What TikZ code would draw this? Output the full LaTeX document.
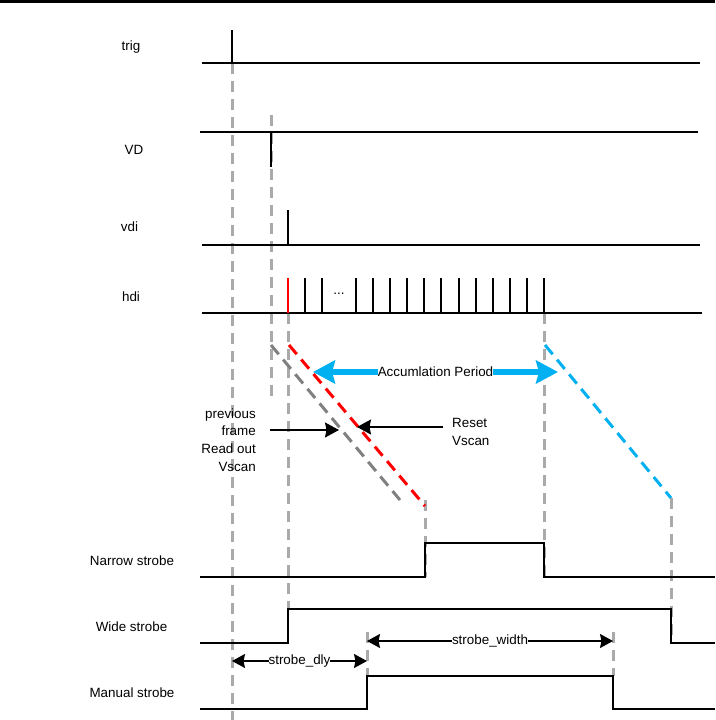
\documentclass[tikz,border=0pt]{standalone}
\usepackage{fontspec}
\setmainfont{Liberation Sans}
\usepackage{xcolor}
\usepackage{tikz}
\usetikzlibrary{arrows.meta, positioning, calc}
\definecolor{guidegray}{RGB}{170,170,170}
\definecolor{scangray}{RGB}{128,128,128}
\definecolor{accblue}{RGB}{0,176,240}

\begin{document}
\begin{tikzpicture}[
    x=1pt, y=-1pt,
    lbl/.style={font=\fontsize{13.4}{17.6}\selectfont, inner sep=0pt},
    sig/.style={line width=1.5pt, line join=miter},
    guide/.style={guidegray, line width=3pt, dash pattern=on 11pt off 7pt},
    scan/.style={line width=3pt, dash pattern=on 12pt off 7pt},
    dimarrow/.style={{Stealth[length=13pt, width=14pt, inset=1.5pt]}-{Stealth[length=13pt, width=14pt, inset=1.5pt]}, line width=1.4pt},
    ptarrow/.style={-{Stealth[length=14pt, width=15pt, inset=1.5pt]}, line width=1.4pt},
    accarrow/.style={{Stealth[length=22pt, width=23pt, inset=3pt]}-{Stealth[length=22pt, width=23pt, inset=3pt]}, accblue, line width=5.5pt}
]
\useasboundingbox (0,0) rectangle (715,720);
\draw[line width=2.5pt] (0,1.5) -- (715,1.5);

% signal names
\node[lbl] (trig) at (131,47) {trig};
\node[lbl] (vd) at (134,150) {VD};
\node[lbl] (vdi) at (129.5,227) {vdi};
\node[lbl] (hdi) at (131,297) {hdi};
\node[lbl] (narrow) at (132,561) {Narrow strobe};
\node[lbl] (wide) at (131.5,627) {Wide strobe};
\node[lbl] (manual) at (132,693) {Manual strobe};

% guide lines
\draw[guide] (232,63) -- (232,720);
\draw[guide] (271,115) -- (271,398);
\draw[guide] (288,313) -- (288,609);
\draw[guide] (425,500) -- (425,577);
\draw[guide] (544,313) -- (544,580);
\draw[guide] (671,498) -- (671,643);
\draw[guide] (367,632) -- (367,676);
\draw[guide] (613,632) -- (613,676);

% trig, VD, vdi, hdi
\draw[sig] (202,63) -- (700,63);
\draw[sig] (232,30) -- (232,63);
\draw[sig] (200,132) -- (698,132);
\draw[sig] (271,132) -- (271,167);
\draw[sig] (202,245) -- (700,245);
\draw[sig] (288,210) -- (288,245);
\draw[sig] (202,313) -- (702,313);
\draw[sig, red] (288,278) -- (288,313);
\draw[sig] (305,278) -- (305,313) (322,278) -- (322,313)
    (356,278) -- (356,313) (373,278) -- (373,313) (390,278) -- (390,313)
    (407,278) -- (407,313) (424,278) -- (424,313) (441,278) -- (441,313)
    (459,278) -- (459,313) (476,278) -- (476,313) (493,278) -- (493,313)
    (510,278) -- (510,313) (527,278) -- (527,313) (544,278) -- (544,313);
\node[lbl] (dots) at (339,294) {...};

% strobes
\draw[sig] (200,577) -- (425,577) -- (425,543) -- (544,543) -- (544,577) -- (715,577);
\draw[sig] (200,643) -- (288,643) -- (288,609) -- (671,609) -- (671,643) -- (715,643);
\draw[sig] (200,709) -- (367,709) -- (367,676) -- (613,676) -- (613,709) -- (715,709);

% vertical scans
\coordinate (readA) at (271,345);
\coordinate (readB) at (400,500);
\coordinate (resetA) at (289,345);
\coordinate (resetB) at (425,506);
\coordinate (nextA) at (545,345);
\coordinate (nextB) at (671,498);
\draw[scan, scangray] (readA) -- (readB);
\draw[scan, red] (resetA) -- (resetB);
\draw[scan, accblue] (nextA) -- (nextB);

\coordinate (accA) at (313,372);
\coordinate (accB) at (558,372);
\draw[accarrow] (accA) -- (accB) node[midway, fill=white, inner sep=1pt, lbl, text=black] {Accumlation Period};

\node[lbl, align=right, anchor=east] (prev) at (256,440) {previous\\frame\\Read out\\Vscan};
\node[lbl, align=left, anchor=west] (reset) at (452,432) {Reset\\Vscan};
\coordinate (prevA) at (270,430);
\coordinate (prevB) at (339,430);
\coordinate (resetC) at (443,427);
\coordinate (resetD) at (357,427);
\draw[ptarrow] (prevA) -- (prevB);
\draw[ptarrow] (resetC) -- (resetD);

\coordinate (dlyA) at (232,661);
\coordinate (dlyB) at (367,661);
\coordinate (widthA) at (367,641);
\coordinate (widthB) at (613,641);
\draw[dimarrow] (dlyA) -- (dlyB) node[midway, fill=white, inner sep=1pt, lbl] {strobe\_dly};
\draw[dimarrow] (widthA) -- (widthB) node[midway, fill=white, inner sep=1pt, lbl] {strobe\_width};
\end{tikzpicture}
\end{document}
